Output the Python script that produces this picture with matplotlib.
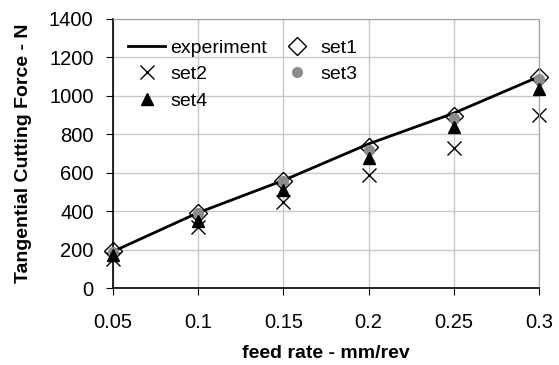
import matplotlib
matplotlib.use("Agg")
import matplotlib.pyplot as plt

plt.rcParams["font.family"] = ["Liberation Sans", "DejaVu Sans"]

feed = [0.05, 0.1, 0.15, 0.2, 0.25, 0.3]
experiment = [190, 392, 560, 750, 910, 1100]
set1 = [192, 390, 555, 735, 893, 1100]
set2 = [150, 315, 450, 590, 730, 900]
set3 = [185, 390, 555, 720, 886, 1088]
set4 = [170, 350, 510, 678, 838, 1035]

fig = plt.figure(figsize=(5.59, 3.65), dpi=100)
ax = fig.add_axes([113 / 559, 1 - 288 / 365, 426 / 559, 269 / 365])

ln, = ax.plot(feed, experiment, color="black", lw=2, zorder=3, label="experiment")
s1, = ax.plot(feed, set1, ls="none", marker="D", ms=9, mfc="white", mec="black",
              mew=1, zorder=2, label="set1", clip_on=False)
s2, = ax.plot(feed, set2, ls="none", marker="x", ms=10, color="black", mew=1,
              zorder=2, label="set2", clip_on=False)
s3, = ax.plot(feed, set3, ls="none", marker="o", ms=7, color="#8c8c8c",
              zorder=4, label="set3", clip_on=False)
s4, = ax.plot(feed, set4, ls="none", marker="^", ms=9, color="black",
              zorder=5, label="set4", clip_on=False)

ax.set_xlim(0.05, 0.3)
ax.set_ylim(0, 1400)
ax.set_xticks(feed)
ax.set_xticklabels(["0.05", "0.1", "0.15", "0.2", "0.25", "0.3"])
ax.set_yticks(range(0, 1401, 200))
ax.grid(True, color="#c8c8c8", lw=1)
ax.set_axisbelow(True)
ax.tick_params(labelsize=14.5, length=5, color="black")
ax.tick_params(axis="x", pad=13)
ax.tick_params(axis="y", pad=9)

for side in ["top", "right"]:
    ax.spines[side].set_color("#a0a0a0")
for side in ["left", "bottom"]:
    ax.spines[side].set_color("black")
    ax.spines[side].set_linewidth(1.2)

ax.set_xlabel("feed rate - mm/rev", fontsize=14, fontweight="bold", labelpad=9)
ax.set_ylabel("Tangential Cutting Force - N", fontsize=14, fontweight="bold",
              labelpad=12)

leg = ax.legend(handles=[ln, s2, s4, s1, s3], ncol=2, loc="upper left",
                frameon=False, fontsize=14, handlelength=1.9, handletextpad=0.25,
                columnspacing=0.6, labelspacing=0.45,
                bbox_to_anchor=(-0.005, 0.99))

fig.savefig("out.png", dpi=100)
